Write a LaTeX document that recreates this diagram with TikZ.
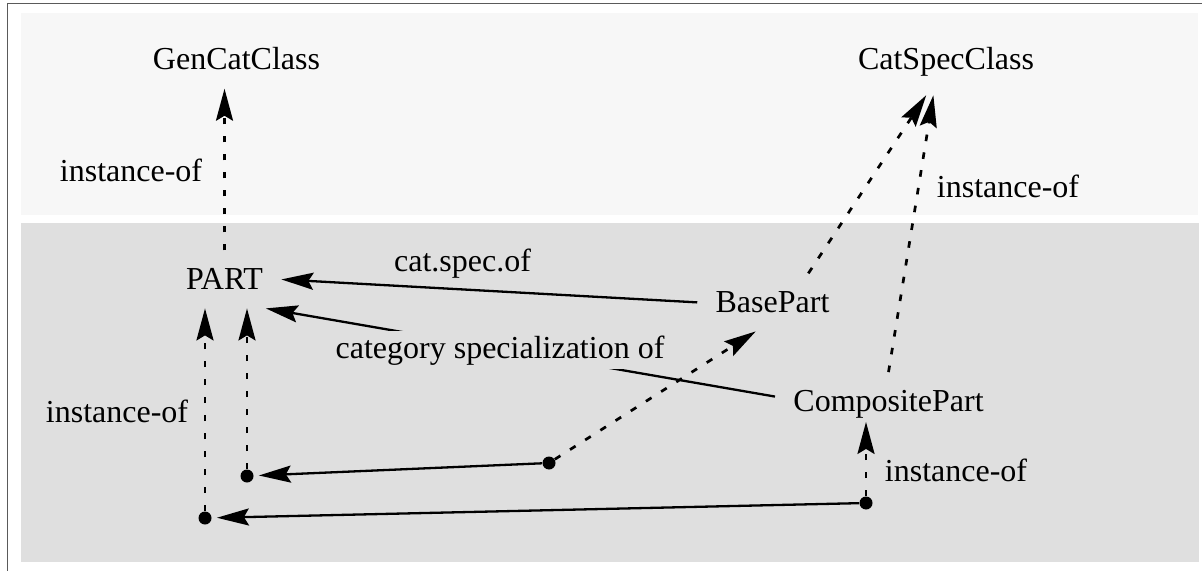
\documentclass[tikz,border=0pt]{standalone}
\usepackage{fontspec}
\setmainfont{Liberation Serif}
\usetikzlibrary{arrows.meta}
\definecolor{topband}{RGB}{247,247,247}
\definecolor{lowband}{RGB}{223,223,223}
\definecolor{framec}{RGB}{90,90,90}
\begin{document}
\begin{tikzpicture}[x=0.5pt,y=-0.5pt,
  txt/.style={font=\fontsize{16pt}{19pt}\selectfont, anchor=base, inner sep=9pt},
  lbl/.style={font=\fontsize{16pt}{19pt}\selectfont, anchor=base, inner sep=0pt},
  dotn/.style={circle, fill=black, inner sep=0pt, minimum size=6.5pt},
  tipped/.style={-{Stealth[length=16pt,width=8.5pt,inset=2.5pt]}},
  solidarrow/.style={tipped, line width=1.15pt},
  dasharrow/.style={tipped, line width=1.35pt, dash pattern=on 3.3pt off 5.7pt},
]
\useasboundingbox (0,0) rectangle (1202,571);
\fill[topband] (21,13) rectangle (1198,215);
\fill[lowband] (21,223) rectangle (1199,561.5);
\draw[framec, line width=0.8pt] (7.5,571) -- (7.5,3.5) -- (1202,3.5);

% main nodes
\node[txt] (GenCatClass) at (236.5,70) {GenCatClass};
\node[txt] (CatSpecClass) at (946,70) {CatSpecClass};
\node[txt] (PART) at (224.5,290) {PART};
\node[txt] (BasePart) at (772.5,312.7) {BasePart};
\node[txt] (CompositePart) at (888.5,411.7) {CompositePart};

% dots
\node[dotn] (d1) at (247,476) {};
\node[dotn] (d2) at (205,518) {};
\node[dotn] (d3) at (549,463) {};
\node[dotn] (d4) at (866,503) {};

% connectors
\draw[dasharrow] (PART.north) -- (PART.north |- GenCatClass.south);
\draw[dasharrow] (BasePart.39) -- (CatSpecClass.-121);
\draw[dasharrow] (CompositePart.north) -- (CatSpecClass.-111);
\draw[solidarrow] (BasePart.west) -- (PART.east);
\draw[solidarrow] (CompositePart.176.5) -- (PART.-35);
\draw[solidarrow, shorten >=2.5pt] (d3) -- (d1);
\draw[solidarrow, shorten >=2.5pt] (d4) -- (d2);
\draw[dasharrow] (d1) -- (d1 |- PART.south);
\draw[dasharrow] (d2) -- (d2 |- PART.south);
\draw[dasharrow] (d3) -- (BasePart.-120);
\draw[dasharrow, shorten >=-7.5pt] (d4) -- (d4 |- CompositePart.south);

% labels
\node[lbl] (lblGen) at (131,182) {instance-of};
\node[lbl] (lblCat) at (1008,198) {instance-of};
\node[lbl] (lblPart) at (117,422) {instance-of};
\node[lbl] (lblComp) at (956,481) {instance-of};
\node[lbl] (lblCatSpec) at (462.5,271.7) {cat.spec.of};
\node[lbl, fill=lowband, inner xsep=2pt, inner ysep=2.2pt] (lblCategory) at (500,358) {category specialization of};
\end{tikzpicture}
\end{document}
